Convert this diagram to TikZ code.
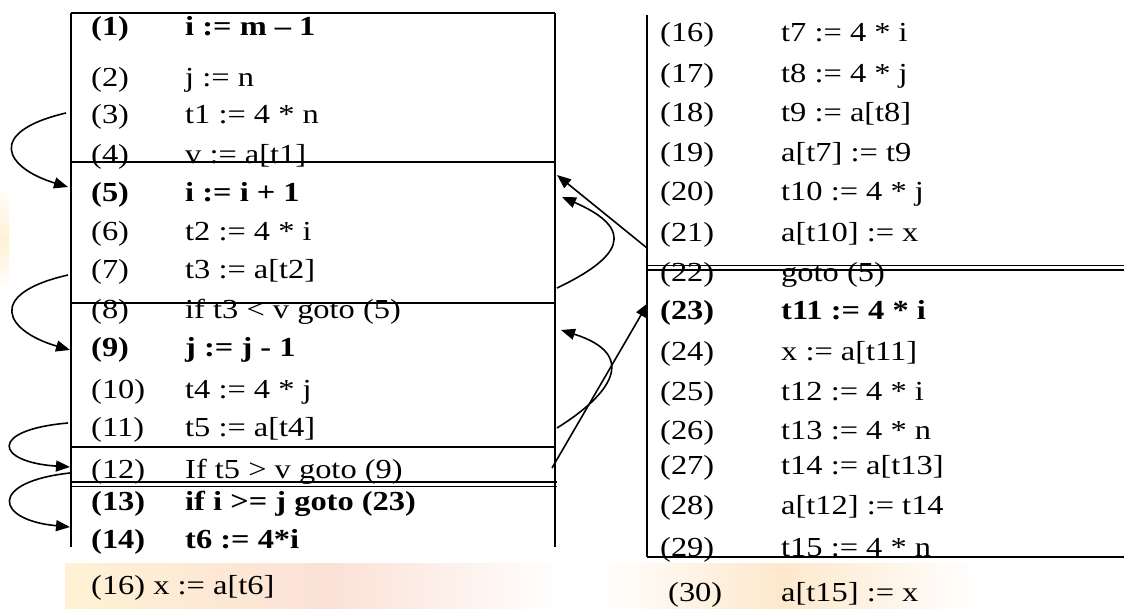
\documentclass[tikz,border=0pt]{standalone}
\usepackage{fontspec}
\usepackage{graphicx}
\setmainfont{Liberation Serif}
\usetikzlibrary{arrows.meta}
\newcommand\sx[1]{\scalebox{1.18}[1]{#1}}
\definecolor{wmY}{HTML}{FFF2D4}
\definecolor{wmP}{HTML}{FBE1D6}
\definecolor{wmO}{HTML}{FDE8CC}
\begin{document}
\begin{tikzpicture}[x=1pt,y=-1pt,
  every node/.style={inner sep=0pt, anchor=base west, font=\fontsize{27.5pt}{30pt}\selectfont},
  bf/.style={font=\fontsize{27.5pt}{30pt}\selectfont\bfseries},
  boxline/.style={line width=2.2pt},
  dbl/.style={line width=1.5pt},
  arr/.style={line width=1.6pt, -{Triangle[length=14pt,width=11pt]}}]
\useasboundingbox (0,0) rectangle (1124,609);
% faint watermark background
\shade[left color=wmY, right color=wmP] (65,563) rectangle (330,609);
\shade[left color=wmP, right color=white] (330,563) rectangle (565,609);
\shade[left color=white, right color=wmO] (600,563) rectangle (780,609);
\shade[left color=wmO, right color=white] (780,563) rectangle (980,609);
\shade[top color=white, bottom color=white, middle color=wmY] (0,185) rectangle (9,292);

% left block lines
\draw[boxline] (71,12.7) -- (555,12.7);
\draw[boxline] (71,12.7) -- (71,547);
\draw[boxline] (555,12.7) -- (555,547);
\draw[boxline] (71,162) -- (555,162);
\draw[boxline] (71,303) -- (555,303);
\draw[boxline] (71,447) -- (555,447);
\draw[dbl] (71,482) -- (557,482);
\draw[dbl] (71,486.5) -- (557,486.5);
% right block lines
\draw[boxline] (647,15) -- (647,557);
\draw[dbl] (647,265.5) -- (1124,265.5);
\draw[dbl] (647,270) -- (1124,270);
\draw[boxline] (647,557) -- (1124,557);

% left texts
\node[bf] (n1) at (91,36) {\sx{(1)}};   \node[bf] (s1) at (185,36) {\sx{i := m – 1}};
\node (n2) at (91,87) {\sx{(2)}};        \node (s2) at (185,87) {\sx{j := n}};
\node (n3) at (91,124) {\sx{(3)}};       \node (s3) at (185,124) {\sx{t1 := 4 * n}};
\node (n4) at (91,164) {\sx{(4)}};       \node (s4) at (185,164) {\sx{v := a[t1]}};
\node[bf] (n5) at (91,202) {\sx{(5)}};   \node[bf] (s5) at (185,202) {\sx{i := i + 1}};
\node (n6) at (91,241) {\sx{(6)}};       \node (s6) at (185,241) {\sx{t2 := 4 * i}};
\node (n7) at (91,279) {\sx{(7)}};       \node (s7) at (185,279) {\sx{t3 := a[t2]}};
\node (n8) at (91,319) {\sx{(8)}};       \node (s8) at (185,319) {\sx{if t3 < v goto (5)}};
\node[bf] (n9) at (91,357) {\sx{(9)}};   \node[bf] (s9) at (185,357) {\sx{j := j - 1}};
\node (n10) at (91,398) {\sx{(10)}};     \node (s10) at (185,398) {\sx{t4 := 4 * j}};
\node (n11) at (91,436) {\sx{(11)}};     \node (s11) at (185,436) {\sx{t5 := a[t4]}};
\node (n12) at (91,478) {\sx{(12)}};     \node (s12) at (185,478) {\sx{If t5 > v goto (9)}};
\node[bf] (n13) at (91,510) {\sx{(13)}}; \node[bf] (s13) at (185,510) {\sx{if i >= j goto (23)}};
\node[bf] (n14) at (91,548) {\sx{(14)}}; \node[bf] (s14) at (185,548) {\sx{t6 := 4*i}};
\node (n16a) at (91,594) {\sx{(16) x := a[t6]}};

% right texts
\node (r16) at (660,42) {\sx{(16)}};     \node (q16) at (781,42) {\sx{t7 := 4 * i}};
\node (r17) at (660,83) {\sx{(17)}};     \node (q17) at (781,83) {\sx{t8 := 4 * j}};
\node (r18) at (660,122) {\sx{(18)}};    \node (q18) at (781,122) {\sx{t9 := a[t8]}};
\node (r19) at (660,162) {\sx{(19)}};    \node (q19) at (781,162) {\sx{a[t7] := t9}};
\node (r20) at (660,201) {\sx{(20)}};    \node (q20) at (781,201) {\sx{t10 := 4 * j}};
\node (r21) at (660,242) {\sx{(21)}};    \node (q21) at (781,242) {\sx{a[t10] := x}};
\node (r22) at (660,282) {\sx{(22)}};    \node (q22) at (781,282) {\sx{goto (5)}};
\node[bf] (r23) at (660,320) {\sx{(23)}};\node[bf] (q23) at (781,320) {\sx{t11 := 4 * i}};
\node (r24) at (660,360) {\sx{(24)}};    \node (q24) at (781,360) {\sx{x := a[t11]}};
\node (r25) at (660,400) {\sx{(25)}};    \node (q25) at (781,400) {\sx{t12 := 4 * i}};
\node (r26) at (660,439) {\sx{(26)}};    \node (q26) at (781,439) {\sx{t13 := 4 * n}};
\node (r27) at (660,474) {\sx{(27)}};    \node (q27) at (781,474) {\sx{t14 := a[t13]}};
\node (r28) at (660,514) {\sx{(28)}};    \node (q28) at (781,514) {\sx{a[t12] := t14}};
\node (r29) at (660,556) {\sx{(29)}};    \node (q29) at (781,556) {\sx{t15 := 4 * n}};
\node (r30) at (668,601) {\sx{(30)}};    \node (q30) at (781,601) {\sx{a[t15] := x}};

% arrow end points
\coordinate (a1s) at (66,113);  \coordinate (a1t) at (68,187);
\coordinate (a2s) at (68,275);  \coordinate (a2t) at (70,350);
\coordinate (a3s) at (68,423);  \coordinate (a3t) at (70,467);
\coordinate (a4s) at (70,473);  \coordinate (a4t) at (70,527);
\coordinate (aAs) at (647,248); \coordinate (aAt) at (557,175);
\coordinate (aBs) at (557,288); \coordinate (aBt) at (562,197);
\coordinate (aCs) at (557,428); \coordinate (aCt) at (561,330);
\coordinate (aDs) at (552,468); \coordinate (aDt) at (648,303);

% left loop arrows
\draw[arr] (a1s) .. controls (-15,132) and (5,168) .. (a1t);
\draw[arr] (a2s) .. controls (-15,294) and (5,331) .. (a2t);
\draw[arr] (a3s) .. controls (-12,430) and (-5,462) .. (a3t);
\draw[arr] (a4s) .. controls (-12,482) and (-5,520) .. (a4t);
% middle arrows
\draw[arr] (aAs) -- (aAt);
\draw[arr] (aBs) .. controls (620,258) and (638,230) .. (aBt);
\draw[arr] (aCs) .. controls (610,395) and (640,355) .. (aCt);
\draw[arr] (aDs) -- (aDt);
\end{tikzpicture}
\end{document}
